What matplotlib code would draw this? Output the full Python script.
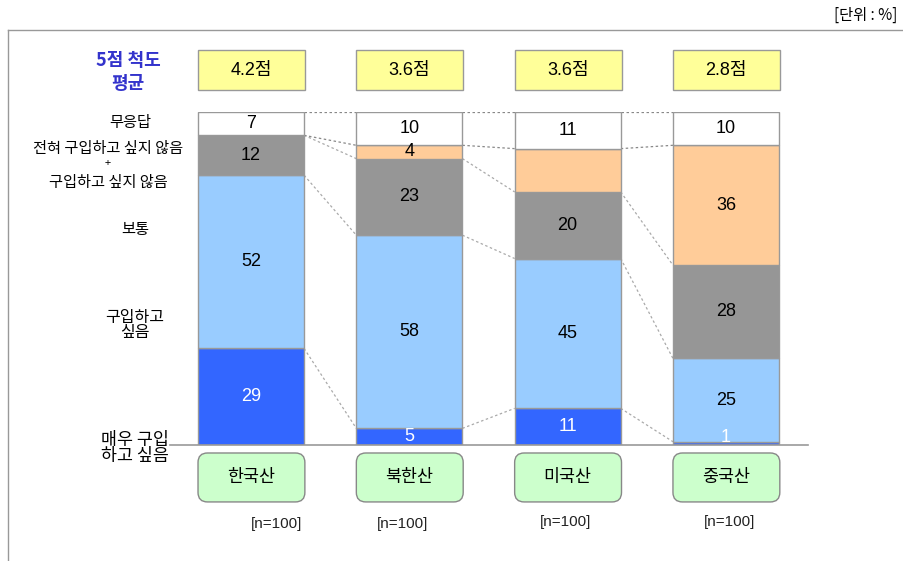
import numpy as np
import matplotlib
matplotlib.use('Agg')
import matplotlib.pyplot as plt
from matplotlib.patches import Rectangle, FancyBboxPatch
from matplotlib.lines import Line2D

plt.rcParams['font.family'] = ['Noto Sans CJK KR', 'DejaVu Sans']
num_font = ['Liberation Sans', 'Noto Sans CJK KR']

# data
origins = ['한국산', '북한산', '미국산', '중국산']
scores = ['4.2점', '3.6점', '3.6점', '2.8점']
n_labels = ['[n=100]', '[n=100]', '[n=100]', '[n=100]']
# bottom -> top
very_want = [29, 5, 11, 1]
want = [52, 58, 45, 25]
neutral = [12, 23, 20, 28]
not_want = [0, 4, 13, 36]
no_answer = [7, 10, 11, 10]
show_label = [[1, 1, 1, 1], [1, 1, 1, 1], [1, 1, 1, 1], [0, 1, 0, 1], [1, 1, 1, 1]]

series = [very_want, want, neutral, not_want, no_answer]
colors = ['#3366FF', '#99CCFF', '#969696', '#FFCC99', '#FFFFFF']
txt_colors = ['white', 'black', 'black', 'black', 'black']

W, H = 904, 561
fig = plt.figure(figsize=(W / 100, H / 100), dpi=100)

def fx(px):
    return px / W

def fy(py):
    return 1 - py / H

ax = fig.add_axes([fx(170), fy(445), 638 / W, 333 / H])
ax.set_xlim(-0.512, 3.518)
ax.set_ylim(0, 100)
ax.axis('off')

x = np.arange(len(origins))
w = 0.67
vals = np.array(series, dtype=float)
cum = np.vstack([np.zeros(len(origins)), np.cumsum(vals, axis=0)])

# connectors between bars
for i in range(len(origins) - 1):
    for k in range(1, cum.shape[0]):
        col = '#888888' if k >= 4 else '#AAAAAA'
        ax.plot([x[i] + w / 2, x[i + 1] - w / 2], [cum[k, i], cum[k, i + 1]],
                ls=(0, (2, 2)), color=col, lw=0.9, zorder=1)

for s in range(len(series)):
    v = vals[s]
    keep = v > 0
    ax.bar(x[keep], v[keep], bottom=cum[s][keep], width=w, color=colors[s],
           edgecolor='#999999', linewidth=1, zorder=2)
    for i in range(len(origins)):
        if v[i] > 0 and show_label[s][i]:
            yc = cum[s][i] + v[i] / 2
            if v[i] < 3:
                yc = 2.2
            ax.text(x[i], yc, str(int(v[i])), ha='center', va='center',
                    fontsize=13, color=txt_colors[s], zorder=3, family=num_font)

ax.plot([-0.512, 3.518], [0, 0], color='#999999', lw=1.2, clip_on=False, zorder=4)

# score boxes
for i, sc in enumerate(scores):
    ax.add_patch(Rectangle((x[i] - w / 2, 106.6), w + 0.005, 12, facecolor='#FFFF99',
                           edgecolor='#999999', lw=1, clip_on=False))
    ax.text(x[i], 112.6, sc, ha='center', va='center', fontsize=13, clip_on=False,
            family=num_font)

# origin boxes
for i, nm in enumerate(origins):
    ax.add_patch(FancyBboxPatch((x[i] - w / 2, -17.1), w + 0.005, 14.7,
                                boxstyle='round,pad=0,rounding_size=0.06',
                                mutation_aspect=47.5, facecolor='#CCFFCC',
                                edgecolor='#888888', lw=1, clip_on=False))
    ax.text(x[i], -9.75, nm, ha='center', va='center', fontsize=12.5, clip_on=False)

n_off = [0.16, -0.045, -0.015, 0.02]
n_y = [-23.8, -23.8, -23.2, -23.2]
for i, nl in enumerate(n_labels):
    ax.text(x[i] + n_off[i], n_y[i], nl, ha='center', va='center', fontsize=11,
            color='#222222', clip_on=False, family=num_font)

# frame
fig.add_artist(Line2D([fx(8), fx(8)], [fy(30), 0], color='#999999', lw=1))
fig.add_artist(Line2D([fx(8), 1], [fy(30), fy(30)], color='#999999', lw=1))

fig.text(fx(897), fy(15), '[단위 : %]', ha='right', va='center', fontsize=11)
fig.text(fx(128), fy(72), '5점 척도\n평균', ha='center', va='center', fontsize=13,
         color='#3333CC', fontweight='bold', linespacing=1.25)

fig.text(fx(130), fy(122), '무응답', ha='center', va='center', fontsize=11)
fig.text(fx(108), fy(148), '전혀 구입하고 싶지 않음', ha='center', va='center', fontsize=11)
fig.text(fx(108), fy(163), '+', ha='center', va='center', fontsize=8)
fig.text(fx(108), fy(182), '구입하고 싶지 않음', ha='center', va='center', fontsize=11)
fig.text(fx(135), fy(230), '보통', ha='center', va='center', fontsize=11)
fig.text(fx(135), fy(325), '구입하고\n싶음', ha='center', va='center', fontsize=11.5,
         linespacing=0.85)
fig.text(fx(135), fy(448), '매우 구입\n하고 싶음', ha='center', va='center', fontsize=12.5,
         linespacing=0.8)

fig.savefig('out.png', dpi=100)
